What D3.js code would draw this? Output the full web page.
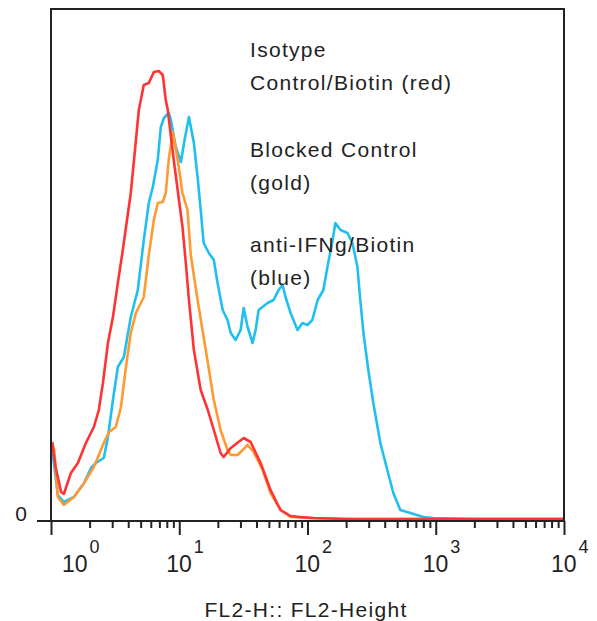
<!DOCTYPE html>
<html>
<head>
<meta charset="utf-8">
<script src="https://cdn.jsdelivr.net/npm/d3@7"></script>
<style>
  body { margin: 0; background: #fff; }
  svg { display: block; font-family: "Liberation Sans", Arial, sans-serif; }
</style>
</head>
<body>
<div id="chart"></div>
<script>
// FL2-Height histograms, values (channel, count)
const isotypeRed = [
  [1.02,78],[1.09,52],[1.20,28],[1.26,26],[1.43,47],[1.62,57],[1.87,77],[2.16,93],
  [2.36,110],[2.54,137],[2.78,177],[3.04,203],[3.32,237],[3.63,270],[4.19,327],
  [4.84,410],[5.29,435],[5.79,437],[6.34,448],[6.92,449],[7.44,445],[7.85,420],
  [8.14,410],[9.06,360],[10.6,293],[11.2,260],[11.9,220],[13.0,170],[14.7,130],
  [16.7,110],[18.6,90],[21.0,67],[22.2,63],[25.2,72],[31.8,82],[36.0,78],[43.1,57],
  [51.5,30],[61.6,10],[73.8,4],[88.2,3],[111,2],[200,1],[1000,1],[10000,1]
];
const blockedGold = [
  [1.02,78],[1.06,70],[1.13,23],[1.26,15],[1.51,23],[1.81,37],[2.16,53],[2.58,77],
  [2.83,88],[3.20,93],[3.51,113],[3.84,153],[4.19,187],[4.59,207],[5.29,223],
  [5.79,265],[6.34,300],[6.80,317],[7.44,318],[7.85,327],[8.28,360],[8.90,388],
  [9.73,360],[10.6,327],[11.6,310],[12.3,265],[13.9,220],[16.1,170],[18.6,120],
  [21.0,90],[23.8,70],[25.2,65],[28.5,65],[34.1,75],[38.0,68],[44.7,50],[51.5,27],
  [61.6,10],[73.8,3],[100,2],[200,1],[1000,1],[10000,1]
];
const antiIFNgBlue = [
  [1.02,72],[1.13,25],[1.26,18],[1.51,23],[1.81,37],[2.05,52],[2.24,57],[2.58,62],
  [2.78,83],[3.04,120],[3.32,153],[3.70,163],[4.19,203],[4.75,230],[5.29,280],
  [5.79,317],[6.22,333],[6.80,360],[7.18,393],[7.60,402],[8.28,407],[8.60,400],
  [9.39,373],[10.3,358],[11.0,380],[11.9,403],[13.0,377],[13.9,343],[14.7,310],
  [15.5,277],[17.0,267],[18.6,260],[19.9,237],[21.8,210],[23.8,200],[25.2,187],
  [27.5,180],[30.1,190],[31.8,212],[34.1,193],[37.3,177],[39.4,190],[41.6,210],
  [48.8,217],[54.4,220],[59.5,230],[63.9,235],[67.4,223],[73.8,207],[83.6,190],
  [91.4,197],[100,195],[109,200],[120,220],[133,230],[143,253],[157,280],[165,297],
  [181,290],[205,287],[224,277],[245,253],[258,220],[273,187],[298,150],[326,117],
  [370,77],[419,50],[467,27],[529,10],[634,7],[800,3],[957,2],[2000,1],[10000,1]
];
const seriesColors = ["#1fbff0", "#ff9a33", "#ff3333"];
const legendLines = [
  "Isotype", "Control/Biotin (red)",
  "Blocked Control", "(gold)",
  "anti-IFNg/Biotin", "(blue)"
];
const decades = [1, 10, 100, 1000, 10000];
const axisTitle = "FL2-H:: FL2-Height";

const W = 597, H = 621;
const plot = {left: 51, right: 564, top: 9, bottom: 521};

const svg = d3.select("#chart").append("svg")
  .attr("width", W).attr("height", H);

const x = d3.scaleLog().domain([1, 10000]).range([plot.left, plot.right]);
const y = d3.scaleLinear().domain([0, 511]).range([plot.bottom - 1, plot.top]);

// curves
const line = d3.line()
  .x(d => x(d[0]))
  .y(d => y(d[1]));

[antiIFNgBlue, blockedGold, isotypeRed].forEach(function(s, i){
  svg.append("path")
    .datum(s)
    .attr("d", line)
    .attr("fill", "none")
    .attr("stroke", seriesColors[i])
    .attr("stroke-width", 2.6)
    .attr("stroke-linejoin", "round");
});

// frame
svg.append("path")
  .attr("d", `M${plot.left},${plot.bottom}V${plot.top}H${plot.right}V${plot.bottom}`)
  .attr("fill", "none")
  .attr("stroke", "#222")
  .attr("stroke-width", 2);

// x axis with log ticks
const xAxis = d3.axisBottom(x)
  .tickValues(d3.range(0, 4).flatMap(e => d3.range(1, 10).map(m => m * Math.pow(10, e))).concat([10000]))
  .tickFormat("")
  .tickSizeOuter(0);
const gx = svg.append("g")
  .attr("transform", `translate(0,${plot.bottom})`)
  .call(xAxis);
gx.select(".domain").remove();
gx.selectAll(".tick line")
  .attr("stroke", "#222")
  .attr("stroke-width", 2)
  .attr("y2", d => decades.includes(d) ? 14 : 7);
svg.append("line")
  .attr("x1", 37).attr("x2", plot.right)
  .attr("y1", plot.bottom).attr("y2", plot.bottom)
  .attr("stroke", "#222").attr("stroke-width", 2);

decades.forEach(function(d, i){
  const cx = x(d) + (i === 0 ? 24 : 0);
  const t = svg.append("text")
    .attr("x", cx - 13)
    .attr("y", 572)
    .attr("font-size", 23)
    .attr("fill", "#222");
  t.append("tspan").text("10");
  t.append("tspan").attr("dy", -19).attr("dx", 2).attr("font-size", 18).text(Math.log10(d));
});

// y zero label
svg.append("text")
  .attr("x", 27).attr("y", y(0) + 1)
  .attr("text-anchor", "end")
  .attr("font-size", 21)
  .attr("fill", "#222")
  .text("0");

// legend text
const legendY = [57, 90, 157, 190, 252, 285];
legendLines.forEach(function(t, i){
  svg.append("text")
    .attr("x", 250).attr("y", legendY[i])
    .attr("font-size", 21)
    .attr("letter-spacing", 1.3)
    .attr("fill", "#222")
    .text(t);
});

svg.append("text")
  .attr("x", 306).attr("y", 617)
  .attr("text-anchor", "middle")
  .attr("font-size", 21)
  .attr("letter-spacing", 1.3)
  .attr("fill", "#222")
  .text(axisTitle);
</script>
</body>
</html>
